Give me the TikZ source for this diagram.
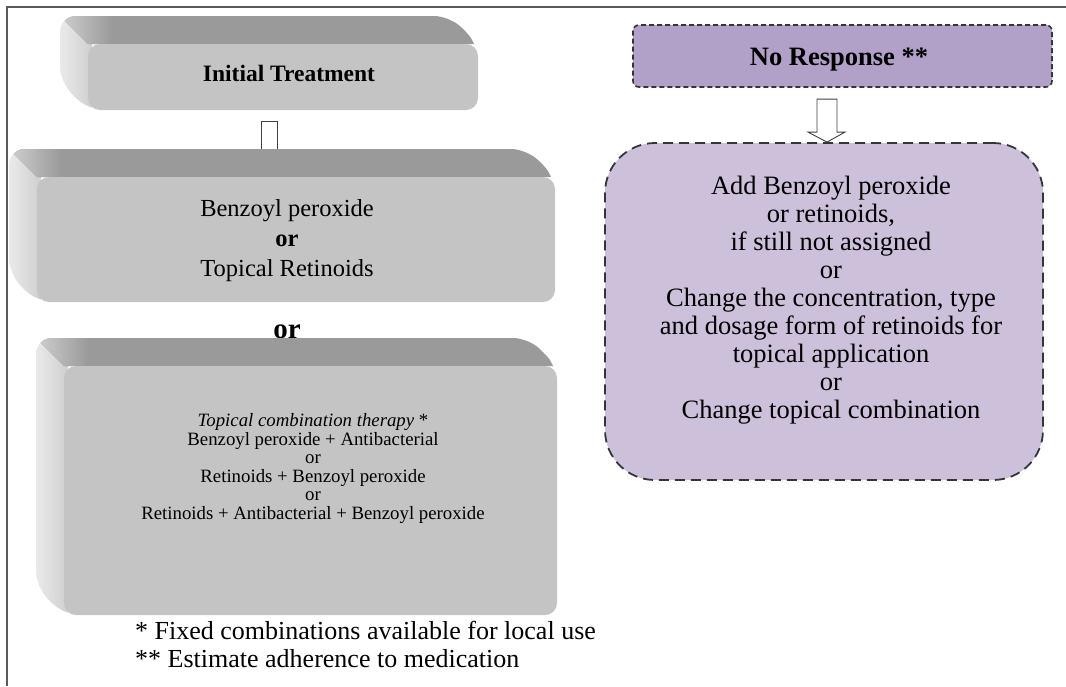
\documentclass[tikz,border=0pt]{standalone}
\usepackage{fontspec}
\setmainfont{Liberation Serif}
\usetikzlibrary{calc}

\definecolor{slabfront}{HTML}{C4C4C4}
\definecolor{slabtop}{HTML}{9A9A9A}
\definecolor{slabsideL}{HTML}{EAEAEA}
\definecolor{slabsideR}{HTML}{CFCFCF}
\definecolor{respdark}{HTML}{B1A0C7}
\definecolor{resplight}{HTML}{CCC0DB}
\definecolor{dashink}{HTML}{353535}
\definecolor{frameink}{HTML}{5A5A5A}

\tikzset{
  lbl/.style={inner sep=0pt, text=black},
  frameline/.style={draw=frameink, line width=1.4pt},
  slabface/.style={fill=slabfront, rounded corners=12pt, inner sep=0pt},
  hollow/.style={draw=black!75, fill=white, line width=0.9pt},
  noresp/.style={fill=respdark, draw=dashink, line width=1.6pt,
    dash pattern=on 5pt off 3pt, rounded corners=6pt, inner sep=0pt},
  nextstep/.style={fill=resplight, draw=dashink, line width=1.8pt,
    dash pattern=on 10pt off 6pt, rounded corners=50pt, inner sep=0pt},
}

% extruded slab: #1 name, #2 centre x, #3 centre y, #4 width, #5 height, #6 depth
\newcommand\slab[6]{%
  \pgfmathsetmacro\hw{#4/2}\pgfmathsetmacro\hh{#5/2}\def\dp{#6}%
  \begin{scope}[shift={(#2,#3)}]
    \begin{scope}
      \clip[rounded corners=16pt] (-\hw-\dp,-\hh-\dp) -- (\hw-\dp,-\hh-\dp)
        -- (\hw,-\hh) -- (\hw,\hh) -- (-\hw,\hh) -- (-\hw-\dp,\hh-\dp) -- cycle;
      % side face
      \shade[left color=slabsideL, right color=slabsideR]
        (-\hw-\dp,-\hh-\dp) rectangle (-\hw+4,\hh);
      % top face
      \fill[slabtop] (-\hw-\dp,-\hh-\dp) -- (\hw-\dp,-\hh-\dp) -- (\hw,-\hh)
        -- (-\hw,-\hh) -- cycle;
      \clip (-\hw-\dp,-\hh-\dp) -- (\hw-\dp,-\hh-\dp) -- (\hw,-\hh)
        -- (-\hw,-\hh) -- cycle;
      \shade[left color=slabsideR, right color=slabtop]
        (-\hw-\dp,-\hh-\dp) rectangle (-\hw+24,-\hh);
    \end{scope}
  \end{scope}
  \node[slabface, minimum width=#4, minimum height=#5] (#1) at (#2,#3) {};
}

\begin{document}
\begin{tikzpicture}[x=1pt,y=-1pt]
\useasboundingbox (0,0) rectangle (1066,686);

% page frame
\draw[frameline] (7,686) -- (7,7) -- (1066,7);

% ---------- left column ----------
\slab{init}{283}{77}{390}{66}{28}
\node[lbl, font=\bfseries\fontsize{23.5}{28}\selectfont] (t-init) at (289,73) {Initial Treatment};

\draw[hollow] ($(init.south)+(-22,11)$) rectangle ($(init.south)+(-6,45)$);

\slab{mono}{296}{239.5}{518}{125}{28}
\node[lbl, font=\fontsize{24.5}{30}\selectfont, align=center] (t-mono) at (287,238)
  {Benzoyl peroxide\\\textbf{or}\\Topical Retinoids};

% the "or" sits just behind the top edge of the next slab
\node[lbl, font=\bfseries\fontsize{29}{30}\selectfont] (t-or) at (287,332) {or};

\slab{combo}{310.5}{490.5}{493}{249}{28}
\node[lbl, font=\fontsize{18.8}{18.6}\selectfont, align=center] (t-combo) at (313,466.5)
  {\textit{Topical combination therapy} *\\Benzoyl peroxide + Antibacterial\\or\\
   Retinoids + Benzoyl peroxide\\or\\Retinoids + Antibacterial + Benzoyl peroxide};

\node[lbl, anchor=base west, font=\fontsize{26}{30}\selectfont] (fn1) at (135,639)
  {* Fixed combinations available for local use};
\node[lbl, anchor=base west, font=\fontsize{26}{30}\selectfont] (fn2) at (135,667)
  {** Estimate adherence to medication};

% ---------- right column ----------
\node[noresp, minimum width=419, minimum height=62] (noresp) at (842.5,56) {};
\node[lbl, font=\bfseries\fontsize{26.5}{30}\selectfont] (t-noresp) at (839,57) {No Response **};

\node[nextstep, minimum width=438, minimum height=337] (next) at (824,311.5) {};
\node[lbl, font=\fontsize{26.5}{28}\selectfont, align=center] (t-next) at (831,297)
  {Add Benzoyl peroxide\\or retinoids,\\if still not assigned\\or\\
   Change the concentration, type\\and dosage form of retinoids for\\
   topical application\\or\\Change topical combination};

\coordinate (a2tip) at ([xshift=3pt]next.north);
\draw[hollow] ($(a2tip)+(-10,-43)$) -- ($(a2tip)+(10,-43)$) -- ($(a2tip)+(10,-10)$)
  -- ($(a2tip)+(18,-10)$) -- (a2tip) -- ($(a2tip)+(-19,-10)$)
  -- ($(a2tip)+(-10,-10)$) -- cycle;
\end{tikzpicture}
\end{document}
